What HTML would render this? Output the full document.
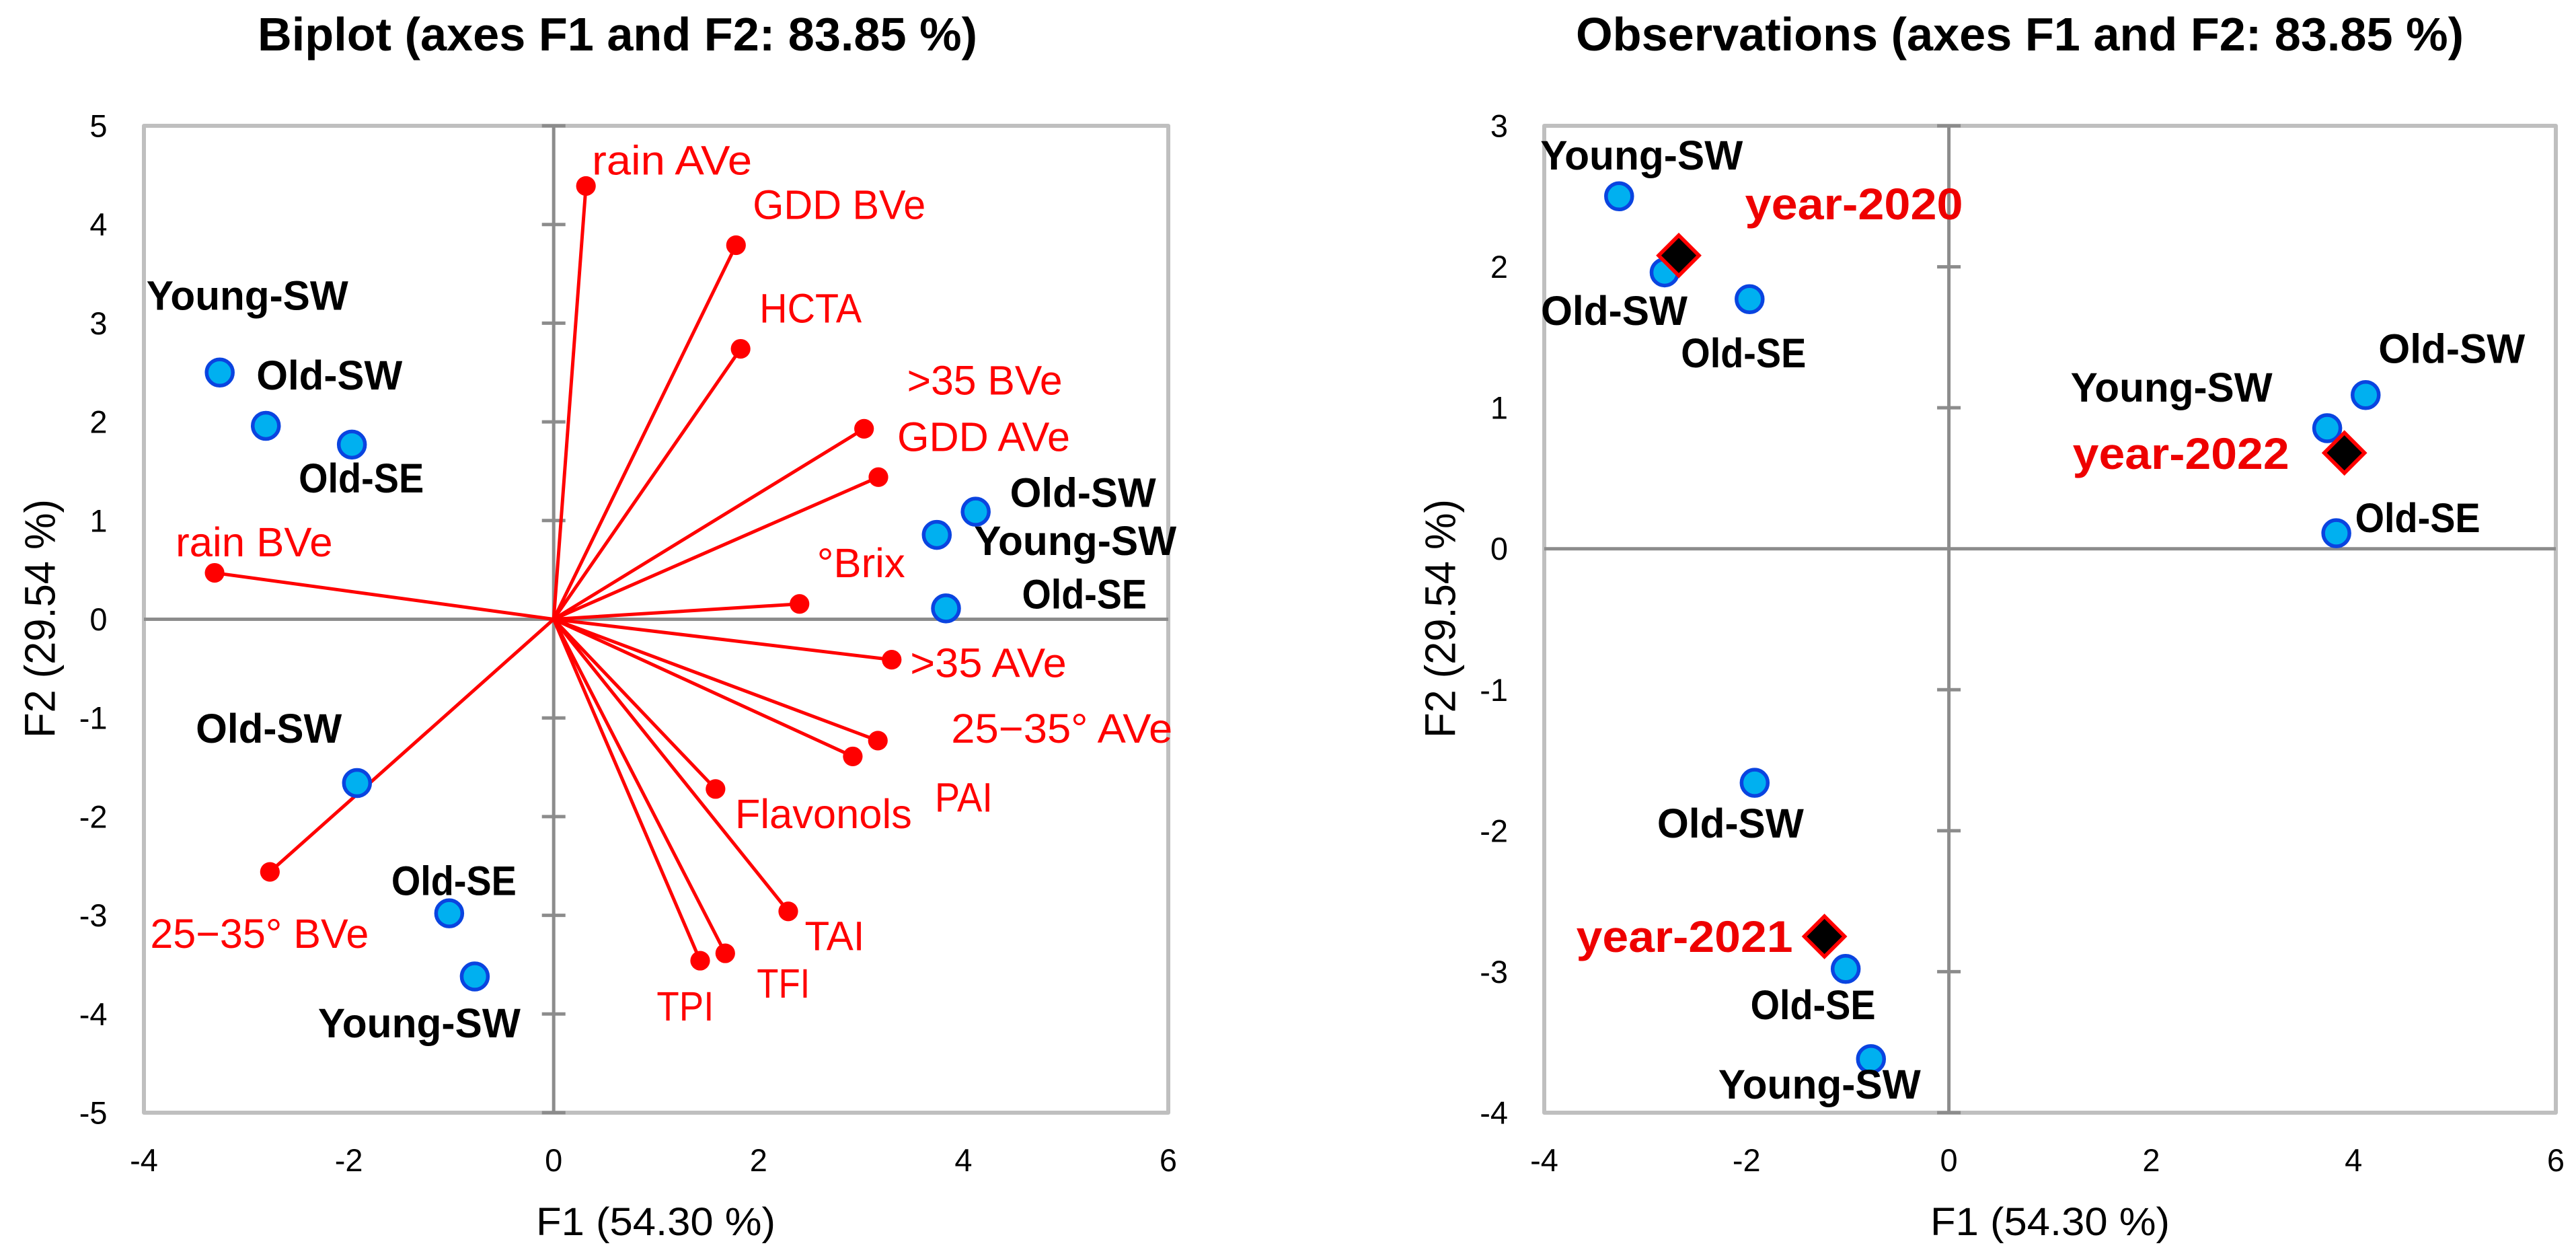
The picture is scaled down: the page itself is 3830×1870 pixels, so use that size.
<!DOCTYPE html>
<html lang="en">
<head>
<meta charset="utf-8">
<title>Biplot and Observations (axes F1 and F2: 83.85 %)</title>
<style>
html,body{margin:0;padding:0;background:#fff;width:3830px;height:1870px;overflow:hidden}
svg{display:block}
text{font-family:"Liberation Sans",sans-serif}
</style>
</head>
<body>
<svg id="figure" xmlns="http://www.w3.org/2000/svg" width="3830" height="1870" viewBox="0 0 3830 1870">
  <rect x="0" y="0" width="3830" height="1870" fill="#fff"/>
  <text x="383" y="75" font-size="70" font-weight="700" fill="#000" textLength="1070" lengthAdjust="spacingAndGlyphs">Biplot (axes F1 and F2: 83.85 %)</text>
  <text x="2343" y="75" font-size="70" font-weight="700" fill="#000" textLength="1320" lengthAdjust="spacingAndGlyphs">Observations (axes F1 and F2: 83.85 %)</text>
  <text x="797" y="1836" font-size="58" fill="#000" textLength="356" lengthAdjust="spacingAndGlyphs">F1 (54.30 %)</text>
  <text transform="translate(81.6 1097) rotate(-90)" font-size="64" fill="#000" textLength="355" lengthAdjust="spacingAndGlyphs">F2 (29.54 %)</text>
  <text x="2870" y="1836" font-size="58" fill="#000" textLength="356" lengthAdjust="spacingAndGlyphs">F1 (54.30 %)</text>
  <text transform="translate(2163.7 1097) rotate(-90)" font-size="64" fill="#000" textLength="355" lengthAdjust="spacingAndGlyphs">F2 (29.54 %)</text>
</svg>
<script>
// ---- chart data ----
const variableNames = ['rain AVe','GDD BVe','HCTA','>35 BVe','GDD AVe','°Brix','rain BVe','25−35° BVe','>35 AVe','25−35° AVe','PAI','Flavonols','TAI','TFI','TPI'];
const variableF1 = [0.315,1.78,1.825,3.03,3.17,2.40,-3.31,-2.77,3.30,3.165,2.92,1.58,2.29,1.675,1.43];
const variableF2 = [4.39,3.79,2.74,1.93,1.44,0.155,0.47,-2.56,-0.41,-1.23,-1.39,-1.72,-2.96,-3.385,-3.46];

const observationNames = ['Young-SW','Old-SW','Old-SE','Old-SW','Young-SW','Old-SE','Old-SW','Old-SE','Young-SW'];
const observationF1 = [-3.26,-2.81,-1.97,4.12,3.74,3.83,-1.92,-1.02,-0.77];
const observationF2 = [2.50,1.96,1.77,1.09,0.855,0.11,-1.66,-2.98,-3.62];

const centroidNames = ['year-2020','year-2021','year-2022'];
const centroidF1 = [-2.67,-1.23,3.91];
const centroidF2 = [2.08,-2.75,0.68];

const biplotXTicks = [-4,-2,0,2,4,6];
const biplotYTicks = [-5,-4,-3,-2,-1,0,1,2,3,4,5];
const observationsXTicks = [-4,-2,0,2,4,6];
const observationsYTicks = [-4,-3,-2,-1,0,1,2,3];

// ---- label placement relative to each mark (layout only) ----
const variableLabelLayout = [[9,-17,238],[25,-39,257],[28,-39,152],[64,-51,231],[28,-39,257],[26,-40,131],[-58,-24.5,233.5],[-178,113,325],[27.5,26,232.5],[109,3,329],[122,82,86],[29,58,263],[24.5,58,89],[47,66,79],[-64.6,89,85]];
const biplotObservationLabelLayout = [[-109,-93.4,300],[-14,-54,217],[-79,71,186],[51,-7,217],[55.4,30,301],[113,0,185.5],[-239.6,-60,217],[-86,-27,186],[-233,90.6,301]];
const observationLabelLayout = [[-117,-40,301],[-184,78,218],[-102,101,186],[19,-48,218],[-381.5,-39.5,300],[28,-1.6,186],[-145,81.4,218],[-141.6,75,186],[-227,58.5,301]];
const centroidLabelLayout = [[98.5,-53.6,324],[-369,23,322],[-404,24,322]];

// ---- plot frames ----
const biplotFrame = {left:214,right:1737,top:187,bottom:1654,xMin:-4,xMax:6,yMin:-5,yMax:5,tickLabelX:159.5};
const observationsFrame = {left:2296,right:3800,top:187,bottom:1654,xMin:-4,xMax:6,yMin:-4,yMax:3,tickLabelX:2242};

const NS = 'http://www.w3.org/2000/svg';
const svg = document.getElementById('figure');

function xScale(frame, v){ return frame.left + (v - frame.xMin) * (frame.right - frame.left) / (frame.xMax - frame.xMin); }
function yScale(frame, v){ return frame.bottom - (v - frame.yMin) * (frame.bottom - frame.top) / (frame.yMax - frame.yMin); }

function shape(tag, parent, props){
  const el = document.createElementNS(NS, tag);
  for (const k in props) el.setAttribute(k, props[k]);
  parent.appendChild(el);
  return el;
}

function drawFrame(frame, xTicks, yTicks, prefix){
  const g = shape('g', svg, {});
  
  
  const border = shape('rect', g, {x:frame.left, y:frame.top, width:frame.right-frame.left, height:frame.bottom-frame.top, fill:'#fff', stroke:'#bfbfbf', 'stroke-width':6, 'stroke-linejoin':'round'});
  
  
  const x0 = xScale(frame, 0), y0 = yScale(frame, 0);
  const hAxis = shape('line', g, {x1:frame.left, x2:frame.right, y1:y0, y2:y0, stroke:'#8c8c8c', 'stroke-width':5});
  
  
  const vAxis = shape('line', g, {x1:x0, x2:x0, y1:frame.top, y2:frame.bottom, stroke:'#8c8c8c', 'stroke-width':5});
  
  
  yTicks.forEach(function(t){
    const y = yScale(frame, t);
    if (t !== 0){
      const tick = shape('line', g, {x1:x0-17.5, x2:x0+17.5, y1:y, y2:y, stroke:'#8c8c8c', 'stroke-width':5});
      
      
    }
    const label = shape('text', g, {x:frame.tickLabelX, y:y+16.5, 'font-size':47, 'text-anchor':'end', fill:'#000'});
    label.textContent = String(t);
    
    
  });
  xTicks.forEach(function(t){
    const label = shape('text', g, {x:xScale(frame,t), y:1741, 'font-size':47, 'text-anchor':'middle', fill:'#000'});
    label.textContent = String(t);
    
    
  });
}

function drawLabel(parent, text, px, py, layout, size, weight, color){
  const label = shape('text', parent, {x:px+layout[0], y:py+layout[1], 'font-size':size, 'font-weight':weight, fill:color, textLength:layout[2], lengthAdjust:'spacingAndGlyphs'});
  label.textContent = text;
  return label;
}

function drawObservations(frame, layout, prefix){
  const marks = shape('g', svg, {});
  
  
  observationNames.forEach(function(name, i){
    const c = shape('circle', marks, {cx:xScale(frame, observationF1[i]), cy:yScale(frame, observationF2[i]), r:19.5, fill:'#00b0f0', stroke:'#0a44e0', 'stroke-width':5.5});
    
    
  });
  const labels = shape('g', svg, {});
  
  
  observationNames.forEach(function(name, i){
    const t = drawLabel(labels, name, xScale(frame, observationF1[i]), yScale(frame, observationF2[i]), layout[i], 61, 700, '#000');
    
    
  });
}

// ---- biplot ----
drawFrame(biplotFrame, biplotXTicks, biplotYTicks, 'biplot');

const vectorGroup = shape('g', svg, {});


variableNames.forEach(function(name, i){
  const px = xScale(biplotFrame, variableF1[i]), py = yScale(biplotFrame, variableF2[i]);
  const line = shape('line', vectorGroup, {x1:xScale(biplotFrame,0), y1:yScale(biplotFrame,0), x2:px, y2:py, stroke:'#ff0000', 'stroke-width':5, 'stroke-linecap':'round'});
  
  
  const dot = shape('circle', vectorGroup, {cx:px, cy:py, r:14.6, fill:'#ff0000'});
  
  
});

drawObservations(biplotFrame, biplotObservationLabelLayout, 'biplot');

const variableLabelGroup = shape('g', svg, {});


variableNames.forEach(function(name, i){
  const t = drawLabel(variableLabelGroup, name, xScale(biplotFrame, variableF1[i]), yScale(biplotFrame, variableF2[i]), variableLabelLayout[i], 61, 400, '#ff0000');
  
  
});

// ---- observations ----
drawFrame(observationsFrame, observationsXTicks, observationsYTicks, 'observations');
drawObservations(observationsFrame, observationLabelLayout, 'observations');

const centroidGroup = shape('g', svg, {});


centroidNames.forEach(function(name, i){
  const px = xScale(observationsFrame, centroidF1[i]), py = yScale(observationsFrame, centroidF2[i]);
  const half = 30;
  const d = shape('path', centroidGroup, {d:'M'+px+' '+(py-half)+'L'+(px+half)+' '+py+'L'+px+' '+(py+half)+'L'+(px-half)+' '+py+'Z', fill:'#000', stroke:'#ff0000', 'stroke-width':5.5, 'stroke-linejoin':'miter'});
  
  
  const t = drawLabel(centroidGroup, name, px, py, centroidLabelLayout[i], 66, 700, '#ee0000');
  
  
});
</script>
</body>
</html>
